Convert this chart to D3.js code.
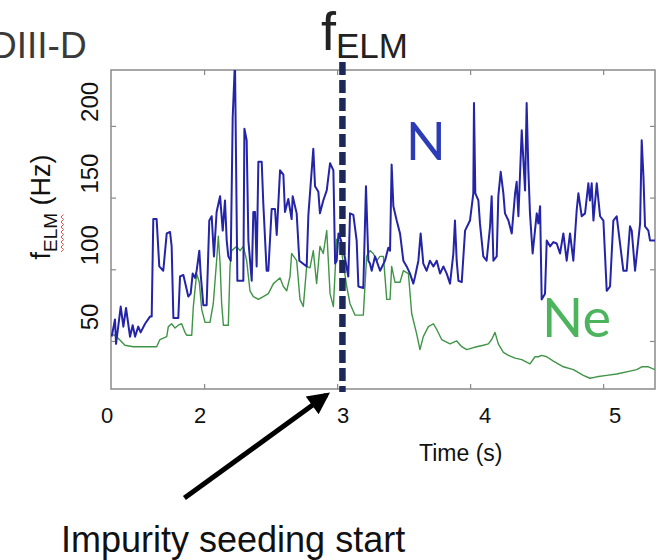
<!DOCTYPE html>
<html lang="en">
<head>
<meta charset="UTF-8">
<title>fELM</title>
<script src="https://cdn.jsdelivr.net/npm/d3@7/dist/d3.min.js"></script>
<style>
    html, body {
        margin: 0;
        padding: 0;
        background: #fff;
    }
    #chart svg {
        display: block;
        font-family: "Liberation Sans", Arial, sans-serif;
    }
</style>
</head>
<body>
<div id="chart"></div>
<script>
    // N seeding (blue)
    var nTime = [1.305, 1.330, 1.338, 1.373, 1.393, 1.413, 1.443, 1.463, 1.481, 1.505, 1.523, 1.556, 1.593, 1.606,
        1.618, 1.643, 1.663, 1.693, 1.719, 1.744, 1.756, 1.769, 1.806, 1.819, 1.844, 1.864, 1.881, 1.899, 1.914,
        1.932, 1.944, 1.964, 1.974, 1.994, 2.019, 2.039, 2.057, 2.074, 2.094, 2.120, 2.140, 2.157, 2.170, 2.182,
        2.200, 2.215, 2.232, 2.250, 2.295, 2.303, 2.320, 2.333, 2.358, 2.370, 2.383, 2.395, 2.408, 2.433, 2.445,
        2.470, 2.483, 2.508, 2.533, 2.546, 2.571, 2.596, 2.608, 2.633, 2.658, 2.666, 2.696, 2.716, 2.771, 2.784,
        2.821, 2.834, 2.859, 2.871, 2.896, 2.922, 2.947, 2.972, 2.985, 2.997, 3.010, 3.030, 3.059, 3.084, 3.097,
        3.122, 3.147, 3.160, 3.197, 3.217, 3.235, 3.247, 3.260, 3.285, 3.323, 3.360, 3.385, 3.398, 3.410, 3.423,
        3.448, 3.473, 3.498, 3.523, 3.548, 3.573, 3.586, 3.611, 3.628, 3.648, 3.673, 3.698, 3.724, 3.749, 3.774,
        3.799, 3.824, 3.849, 3.874, 3.886, 3.899, 3.912, 3.937, 3.962, 3.999, 4.024, 4.029, 4.039, 4.062, 4.074,
        4.099, 4.124, 4.150, 4.162, 4.175, 4.200, 4.212, 4.230, 4.250, 4.262, 4.288, 4.313, 4.338, 4.350, 4.363,
        4.388, 4.413, 4.425, 4.438, 4.450, 4.470, 4.501, 4.513, 4.526, 4.538, 4.563, 4.576, 4.601, 4.626, 4.651,
        4.676, 4.701, 4.726, 4.751, 4.776, 4.801, 4.814, 4.839, 4.864, 4.889, 4.901, 4.914, 4.927, 4.952, 4.977,
        5.002, 5.027, 5.052, 5.077, 5.102, 5.127, 5.152, 5.177, 5.202, 5.215, 5.240, 5.278, 5.290, 5.303, 5.315,
        5.340, 5.353, 5.390];
    var nValue = [53, 65, 48, 74, 60, 73, 53, 61, 53, 60, 56, 62, 67, 67,
        135, 135, 102, 99, 125, 126, 116, 66, 66, 95, 96, 88, 81, 83, 97,
        94, 99, 113, 97, 75, 75, 134, 137, 109, 140, 151, 127, 148, 120, 109,
        106, 206, 245, 92, 92, 198, 190, 120, 92, 140, 140, 102, 175, 175, 146,
        99, 99, 142, 142, 124, 169, 166, 140, 149, 135, 151, 139, 106, 102, 138,
        184, 158, 154, 139, 148, 155, 174, 169, 104, 106, 125, 120, 108, 95, 139,
        138, 120, 88, 87, 158, 106, 104, 99, 109, 99, 106, 115, 113, 173, 144,
        134, 125, 106, 102, 97, 90, 95, 106, 125, 104, 99, 106, 102, 106, 97,
        102, 97, 90, 111, 134, 106, 92, 91, 127, 134, 153, 216, 153, 148, 132,
        109, 106, 130, 151, 106, 109, 151, 168, 153, 139, 134, 125, 153, 161, 137,
        197, 155, 216, 169, 139, 111, 139, 132, 144, 79, 83, 120, 116, 119, 118,
        111, 125, 106, 125, 106, 141, 153, 137, 139, 160, 148, 160, 134, 160, 137,
        134, 85, 88, 134, 137, 118, 99, 99, 130, 127, 99, 132, 190, 165, 130,
        127, 120, 120];

    // Ne seeding (green)
    var neTime = [1.305, 1.343, 1.405, 1.468, 1.643, 1.668, 1.719, 1.731, 1.756, 1.781, 1.806, 1.831, 1.856, 1.869,
        1.907, 1.919, 1.944, 1.964, 1.982, 2.007, 2.044, 2.069, 2.094, 2.107, 2.120, 2.132, 2.145, 2.182, 2.195,
        2.207, 2.245, 2.270, 2.295, 2.320, 2.333, 2.345, 2.370, 2.408, 2.445, 2.483, 2.521, 2.546, 2.571, 2.596,
        2.621, 2.646, 2.658, 2.696, 2.721, 2.746, 2.771, 2.796, 2.821, 2.846, 2.871, 2.896, 2.922, 2.947, 2.972,
        2.997, 3.022, 3.072, 3.097, 3.135, 3.197, 3.222, 3.247, 3.272, 3.298, 3.323, 3.348, 3.373, 3.398, 3.410,
        3.435, 3.473, 3.498, 3.536, 3.561, 3.598, 3.623, 3.648, 3.686, 3.724, 3.749, 3.786, 3.849, 3.899, 3.937,
        3.974, 4.012, 4.049, 4.099, 4.137, 4.162, 4.187, 4.212, 4.250, 4.288, 4.338, 4.388, 4.450, 4.488, 4.513,
        4.538, 4.576, 4.626, 4.701, 4.776, 4.851, 4.901, 4.952, 5.027, 5.102, 5.202, 5.252, 5.290, 5.340, 5.390];
    var neValue = [55, 53, 47, 46, 46, 51, 53, 60, 62, 59, 61, 62, 56, 54,
        54, 74, 97, 91, 72, 63, 63, 76, 106, 123, 104, 76, 61, 61, 102,
        113, 116, 113, 116, 106, 95, 85, 81, 79, 81, 83, 90, 92, 94, 88,
        85, 95, 111, 106, 79, 74, 102, 101, 113, 90, 116, 111, 127, 83, 74,
        121, 120, 88, 76, 68, 68, 109, 113, 111, 106, 109, 109, 79, 79, 102,
        91, 91, 99, 97, 69, 55, 44, 53, 60, 62, 58, 51, 48, 50, 46,
        44, 45, 46, 47, 48, 51, 56, 48, 42, 40, 38, 37, 34, 39, 39,
        40, 39, 36, 32, 30, 26, 24, 25, 26, 27, 29, 30, 32, 32, 30];

    var xTicks = [2, 3, 4, 5];
    var xTickLabels = ["0", "2", "3", "4", "5"];
    var yTicks = [50, 100, 150, 200];
    var seedTime = 3.04;

    var width = 662, height = 560;
    var margin = {top: 70, right: 7, bottom: 171, left: 111};
    var plotW = width - margin.left - margin.right;
    var plotH = height - margin.top - margin.bottom;

    var x = d3.scaleLinear().domain([1.3, 5.39]).range([0, plotW]);
    var y = d3.scaleLinear().domain([16.5, 239]).range([plotH, 0]);

    var svg = d3.select("#chart").append("svg")
        .attr("width", width)
        .attr("height", height);

    var defs = svg.append("defs");
    defs.append("clipPath").attr("id", "plotClip")
        .append("rect").attr("width", plotW).attr("height", plotH);
    defs.append("marker")
        .attr("id", "arrowHead")
        .attr("viewBox", "0 0 10 10")
        .attr("refX", 8).attr("refY", 5)
        .attr("markerWidth", 4.8).attr("markerHeight", 4.4)
        .attr("markerUnits", "strokeWidth")
        .attr("orient", "auto")
        .append("path").attr("d", "M0,0 L10,5 L0,10 Z").attr("fill", "#000");

    var g = svg.append("g").attr("transform", "translate(" + margin.left + "," + margin.top + ")");

    // ticks (inside, all four sides like matlab)
    var tickLen = 5;
    var axisColor = "#8a8a8a";
    var xAxB = g.append("g").attr("transform", "translate(0," + plotH + ")")
        .call(d3.axisTop(x).tickValues(xTicks).tickSize(tickLen).tickFormat(""));
    var xAxT = g.append("g")
        .call(d3.axisBottom(x).tickValues(xTicks).tickSize(tickLen).tickFormat(""));
    var yAxL = g.append("g")
        .call(d3.axisRight(y).tickValues(yTicks).tickSize(tickLen).tickFormat(""));
    var yAxR = g.append("g").attr("transform", "translate(" + plotW + ",0)")
        .call(d3.axisLeft(y).tickValues(yTicks).tickSize(tickLen).tickFormat(""));
    [xAxB, xAxT, yAxL, yAxR].forEach(function (a) {
        a.select(".domain").remove();
        a.selectAll("line").attr("stroke", axisColor).attr("stroke-width", 1.2);
    });

    // frame
    g.append("rect")
        .attr("width", plotW).attr("height", plotH)
        .attr("fill", "none")
        .attr("stroke", axisColor)
        .attr("stroke-width", 1.5);

    // data lines
    var line = d3.line()
        .x(function (d) { return x(d[0]); })
        .y(function (d) { return y(d[1]); });

    var gLines = g.append("g").attr("clip-path", "url(#plotClip)");
    gLines.append("path")
        .datum(d3.zip(neTime, neValue))
        .attr("d", line)
        .attr("fill", "none")
        .attr("stroke", "#3f9446")
        .attr("stroke-width", 1.4)
        .attr("stroke-linejoin", "round");
    gLines.append("path")
        .datum(d3.zip(nTime, nValue))
        .attr("d", line)
        .attr("fill", "none")
        .attr("stroke", "#2424a8")
        .attr("stroke-width", 2)
        .attr("stroke-linejoin", "round");

    // seeding start dashed line
    g.append("line")
        .attr("x1", x(seedTime)).attr("x2", x(seedTime))
        .attr("y1", -8).attr("y2", plotH + 3)
        .attr("stroke", "#1b2858")
        .attr("stroke-width", 6.5)
        .attr("stroke-dasharray", "13,5");

    // x tick labels (hand-placed in the original slide, nudged a bit)
    var xLabelAt = [1.3].concat(xTicks);
    var xNudge = [-4, -4, 6, 15, 12];
    g.append("g").selectAll("text")
        .data(xLabelAt)
        .enter().append("text")
        .attr("x", function (d, i) { return x(d) + xNudge[i]; })
        .attr("y", plotH + 34)
        .attr("text-anchor", "middle")
        .attr("font-size", 22)
        .attr("fill", "#111")
        .text(function (d, i) { return xTickLabels[i]; });

    // y tick labels, rotated
    g.append("g").selectAll("text")
        .data(yTicks)
        .enter().append("text")
        .attr("transform", function (d) {
            return "translate(-13," + (y(d) - 24) + ") rotate(-90)";
        })
        .attr("text-anchor", "middle")
        .attr("font-size", 24)
        .attr("fill", "#111")
        .text(function (d) { return d; });

    // y axis title with subscript
    var yTitle = svg.append("g").attr("transform", "translate(50,207) rotate(-90)");
    var yt = yTitle.append("text")
        .attr("text-anchor", "middle")
        .attr("font-size", 27)
        .attr("fill", "#111");
    yt.append("tspan").text("f");
    yt.append("tspan").attr("font-size", 19).attr("dy", 7).text("ELM");
    yt.append("tspan").attr("dy", -7).text(" (Hz)");
    // red spell-check squiggle under ELM
    var full = yt.node().getComputedTextLength();
    var fW = yt.node().getSubStringLength(0, 1);
    var elmW = yt.node().getSubStringLength(1, 3);
    var sx = -full / 2 + fW, zig = "M" + sx + ",11";
    for (var k = 1; k * 2.5 <= elmW; k++) {
        zig += " L" + (sx + k * 2.5) + "," + (k % 2 ? 13.5 : 11);
    }
    yTitle.append("path").attr("d", zig)
        .attr("fill", "none").attr("stroke", "#d9534f").attr("stroke-width", 1);

    // x axis title
    svg.append("text")
        .attr("x", margin.left + x(3.93))
        .attr("y", 461)
        .attr("text-anchor", "middle")
        .attr("font-size", 23)
        .attr("fill", "#111")
        .text("Time (s)");

    // plot title
    var title = svg.append("text")
        .attr("x", 321).attr("y", 50)
        .attr("font-size", 54)
        .attr("fill", "#222");
    title.append("tspan").text("f");
    title.append("tspan").attr("font-size", 35).attr("dy", 8).text("ELM");

    svg.append("text")
        .attr("x", -10).attr("y", 58)
        .attr("font-size", 37)
        .attr("fill", "#3a3a3a")
        .text("DIII-D");

    // series labels
    svg.append("text")
        .attr("x", 406).attr("y", 160)
        .attr("font-family", "Lato, 'Open Sans', sans-serif")
        .attr("font-size", 52)
        .attr("fill", "#2b3cb6")
        .text("N");
    svg.append("text")
        .attr("x", 542).attr("y", 337)
        .attr("font-family", "Lato, 'Open Sans', sans-serif")
        .attr("font-size", 54)
        .attr("fill", "#4cb45c")
        .text("Ne");

    // annotation arrow
    var tipX = margin.left + x(seedTime) - 16, tipY = margin.top + plotH + 6;
    svg.append("line")
        .attr("x1", tipX - 142).attr("y1", tipY + 103)
        .attr("x2", tipX).attr("y2", tipY)
        .attr("stroke", "#000")
        .attr("stroke-width", 5)
        .attr("marker-end", "url(#arrowHead)");

    svg.append("text")
        .attr("x", 61).attr("y", 552)
        .attr("font-size", 36)
        .attr("fill", "#111")
        .text("Impurity seeding start");
</script>
</body>
</html>
